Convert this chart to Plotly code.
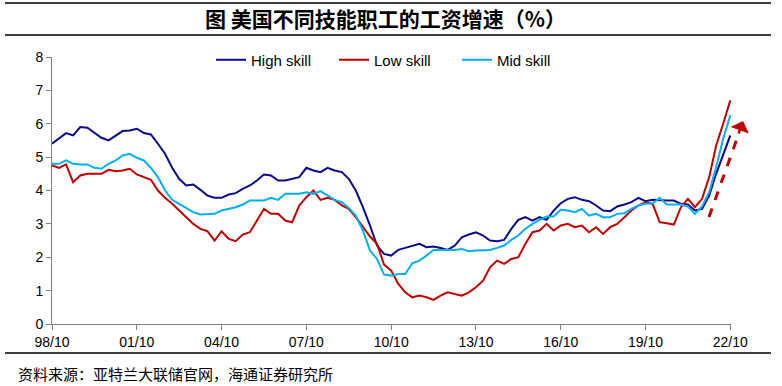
import pandas as pd
import plotly.graph_objects as go

# Quarterly observations, 1998/10 .. 2022/10
dates = pd.date_range("1998-10-01", "2022-10-01", freq="3MS")

high_skill = [
    5.4, 5.55, 5.72, 5.65, 5.9, 5.88, 5.72, 5.58, 5.5, 5.65, 5.78, 5.8,
    5.85, 5.72, 5.68, 5.4, 5.1, 4.68, 4.35, 4.15, 4.18, 4.02, 3.85, 3.78,
    3.78, 3.88, 3.92, 4.05, 4.15, 4.3, 4.48, 4.45, 4.3, 4.3, 4.35, 4.4,
    4.68, 4.6, 4.55, 4.68, 4.6, 4.55, 4.35, 4.0, 3.5, 2.95, 2.35, 2.1,
    2.05, 2.22, 2.28, 2.35, 2.4, 2.3, 2.32, 2.28, 2.22, 2.35, 2.6, 2.68,
    2.75, 2.65, 2.5, 2.48, 2.52, 2.85, 3.12, 3.2, 3.1, 3.2, 3.12, 3.4,
    3.62, 3.75, 3.8, 3.72, 3.68, 3.55, 3.4, 3.38, 3.52, 3.58, 3.65, 3.78,
    3.68, 3.72, 3.7, 3.7, 3.7, 3.6, 3.58, 3.4, 3.45, 3.85, 4.5, 5.05,
    5.65,
]

low_skill = [
    4.75, 4.68, 4.78, 4.25, 4.45, 4.5, 4.5, 4.5, 4.62, 4.58, 4.6, 4.65,
    4.48, 4.4, 4.32, 4.0, 3.78, 3.6, 3.4, 3.22, 3.0, 2.85, 2.78, 2.5,
    2.78, 2.55, 2.48, 2.68, 2.75, 3.1, 3.45, 3.3, 3.3, 3.1, 3.05, 3.55,
    3.8, 4.0, 3.72, 3.78, 3.72, 3.55, 3.45, 3.2, 2.9, 2.62, 2.4, 1.78,
    1.6, 1.2, 0.95, 0.8, 0.85, 0.8, 0.72, 0.85, 0.95, 0.9, 0.85, 0.95,
    1.1, 1.3, 1.7, 1.9, 1.8, 1.95, 2.0, 2.4, 2.75, 2.8, 3.0, 2.8,
    2.95, 3.0, 2.9, 2.95, 2.75, 2.9, 2.7, 2.9, 3.0, 3.2, 3.4, 3.55,
    3.65, 3.6, 3.05, 3.02, 2.98, 3.5, 3.75, 3.5, 3.75, 4.4, 5.35, 6.0,
    6.7,
]

mid_skill = [
    4.8, 4.8, 4.9, 4.8, 4.78, 4.78, 4.68, 4.65, 4.8, 4.9, 5.05, 5.1,
    4.98, 4.9, 4.68, 4.4, 4.0, 3.72, 3.6, 3.48, 3.35, 3.28, 3.3, 3.3,
    3.4, 3.45, 3.5, 3.58, 3.7, 3.7, 3.7, 3.78, 3.72, 3.9, 3.9, 3.9,
    3.95, 3.9, 3.98, 3.85, 3.72, 3.65, 3.48, 3.25, 2.8, 2.2, 1.95, 1.48,
    1.45, 1.5, 1.5, 1.82, 1.9, 2.05, 2.22, 2.22, 2.22, 2.22, 2.25, 2.18,
    2.2, 2.22, 2.22, 2.28, 2.35, 2.52, 2.65, 2.85, 3.0, 3.12, 3.22, 3.22,
    3.42, 3.4, 3.35, 3.45, 3.25, 3.3, 3.2, 3.2, 3.3, 3.32, 3.45, 3.55,
    3.6, 3.62, 3.78, 3.58, 3.58, 3.58, 3.52, 3.3, 3.52, 3.95, 4.7, 5.55,
    6.25,
]

tick_dates = ["1998-10-01", "2001-10-01", "2004-10-01", "2007-10-01", "2010-10-01",
              "2013-10-01", "2016-10-01", "2019-10-01", "2022-10-01"]
tick_labels = ["98/10", "01/10", "04/10", "07/10", "10/10", "13/10", "16/10", "19/10", "22/10"]

title_text = "图 美国不同技能职工的工资增速（%）"
source_text = "资料来源：亚特兰大联储官网，海通证券研究所"

fig = go.Figure()
fig.add_trace(go.Scatter(x=dates, y=high_skill, mode="lines", name="High skill",
                         line=dict(color="#0A0A8A", width=2)))
fig.add_trace(go.Scatter(x=dates, y=low_skill, mode="lines", name="Low skill",
                         line=dict(color="#C00000", width=2)))
fig.add_trace(go.Scatter(x=dates, y=mid_skill, mode="lines", name="Mid skill",
                         line=dict(color="#00B0F0", width=2)))

L, R, T, B = 52, 51, 57, 62
W, H = 782, 386
pw, ph = W - L - R, H - T - B


def px_x(px):
    return (px - L) / pw


def px_y(py):
    return (H - B - py) / ph


shapes = []
for yy in [3, 35, 353]:
    shapes.append(dict(type="line", xref="paper", yref="paper",
                       x0=px_x(5), x1=px_x(771), y0=px_y(yy), y1=px_y(yy),
                       line=dict(color="black", width=1.5)))
# dashed arrow shaft
shapes.append(dict(type="line", xref="paper", yref="paper",
                   x0=px_x(709), y0=px_y(217), x1=px_x(739), y1=px_y(133),
                   line=dict(color="#C00000", width=3, dash="dash")))

fig.update_layout(
    width=W, height=H,
    margin=dict(l=L, r=R, t=T, b=B, autoexpand=False),
    paper_bgcolor="white", plot_bgcolor="white",
    font=dict(family="Liberation Sans, Arial, sans-serif", size=14, color="black"),
    showlegend=True,
    legend=dict(orientation="h", x=px_x(211), xanchor="left", y=px_y(60), yanchor="middle",
                font=dict(size=15), bgcolor="rgba(0,0,0,0)",
                entrywidth=78, entrywidthmode="pixels"),
    xaxis=dict(range=[pd.Timestamp("1998-10-01"), pd.Timestamp("2022-10-10")],
               tickmode="array", tickvals=tick_dates, ticktext=tick_labels,
               showgrid=False, zeroline=False, showline=True, linecolor="#808080",
               linewidth=1, ticks="outside", ticklen=5, tickcolor="#808080",
               tickfont=dict(size=14)),
    yaxis=dict(range=[0, 8], dtick=1, showgrid=False, zeroline=False, showline=True,
               linecolor="#808080", linewidth=1, ticks="outside", ticklen=5,
               tickcolor="#808080", tickfont=dict(size=14)),
    shapes=shapes,
    annotations=[
        dict(text="<b>" + title_text + "</b>", xref="paper", yref="paper",
             x=px_x(385), y=px_y(18), xanchor="center", yanchor="middle", showarrow=False,
             font=dict(family="Noto Sans CJK SC", size=21, color="black")),
        dict(text=source_text, xref="paper", yref="paper",
             x=px_x(16), y=px_y(373), xanchor="left", yanchor="middle", showarrow=False,
             font=dict(family="Noto Sans CJK SC", size=15, color="black")),
        dict(text="", xref="paper", yref="paper", x=px_x(743), y=px_y(121),
             ax=-5, ay=14, showarrow=True, arrowhead=1, arrowsize=1.3,
             arrowwidth=2.5, arrowcolor="#C00000"),
    ],
)

fig.write_html("out.html", config={"displayModeBar": False},
               post_script="document.body.style.margin='0';")
